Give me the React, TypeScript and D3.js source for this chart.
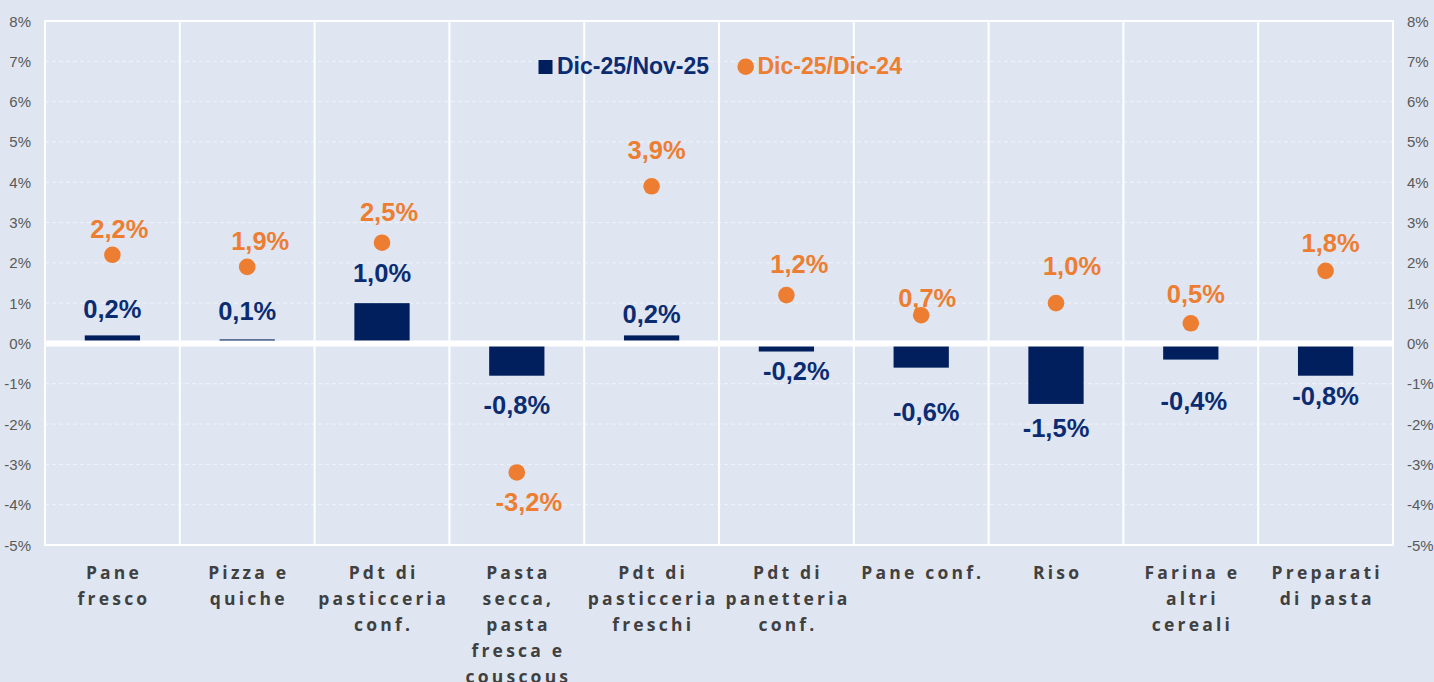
import React from "react";
import * as d3 from "d3";

const categories: string[][] = [
  ["Pane", "fresco"],
  ["Pizza e", "quiche"],
  ["Pdt di", "pasticceria", "conf."],
  ["Pasta", "secca,", "pasta", "fresca e", "couscous"],
  ["Pdt di", "pasticceria", "freschi"],
  ["Pdt di", "panetteria", "conf."],
  ["Pane conf."],
  ["Riso"],
  ["Farina e", "altri", "cereali"],
  ["Preparati", "di pasta"],
];
const monthly: number[] = [0.2, 0.1, 1.0, -0.8, 0.2, -0.2, -0.6, -1.5, -0.4, -0.8];
const yearly: number[] = [2.2, 1.9, 2.5, -3.2, 3.9, 1.2, 0.7, 1.0, 0.5, 1.8];
const yTicks: number[] = [-5, -4, -3, -2, -1, 0, 1, 2, 3, 4, 5, 6, 7, 8];
const seriesNames: string[] = ["Dic-25/Nov-25", "Dic-25/Dic-24"];

// manual label placements of the original (px)
const blueDx = [0, 0, 0, 0, 0, 10, 5, 0, 3, 0];
const blueDy = [-17, -19.5, -21.5, 38.3, -12.7, 28.4, 53, 32.7, 50.4, 29.3];
const orangeDx = [7, 13, 7, 12, 5, 13, 6, 16, 5, 5];
const orangeDy = [-17, -17, -22, 39, -27, -22, -8, -28, -20, -19];

const W = 1434;
const H = 682;
const BG = "#dfe6f2";
const NAVY = "#001f5c";
const NAVY_TXT = "#0c2c72";
const ORANGE = "#ed7d31";
const AXIS_TXT = "#595959";
const CAT_TXT = "#404040";

const fmt = (v: number) => v.toFixed(1).replace(".", ",") + "%";

export default function App() {
  const idx = categories.map((_, i) => String(i));
  const x = d3.scaleBand<string>().domain(idx).range([45, 1393]).paddingInner(0).paddingOuter(0);
  const y = d3.scaleLinear().domain([-5, 8]).range([545, 21]);
  const bw = x.bandwidth();
  const barW = bw * 0.41;
  const labelFont = "'Liberation Sans', Arial, sans-serif";
  const catFont = "'Open Sans', 'Noto Sans', sans-serif";
  const ls = 3.2;

  return (
    <svg
      width={W}
      height={H}
      style={{ position: "absolute", left: 0, top: 0, display: "block" }}
    >
      <rect x={0} y={0} width={W} height={H} fill={BG} />
      {/* dashed gridlines */}
      {yTicks.map((t) => (
        <line
          key={"g" + t}
          x1={45}
          x2={1393}
          y1={y(t)}
          y2={y(t)}
          stroke="#ffffff"
          strokeOpacity={0.55}
          strokeWidth={1}
          strokeDasharray="4 3"
        />
      ))}
      {/* vertical separators */}
      {idx.map((k) => (
        <line key={"v" + k} x1={x(k)!} x2={x(k)!} y1={y(8)} y2={y(-5)} stroke="#fff" strokeWidth={2} />
      ))}
      <line x1={1393} x2={1393} y1={y(8)} y2={y(-5)} stroke="#fff" strokeWidth={2} />
      <line x1={44} x2={1394} y1={y(8)} y2={y(8)} stroke="#fff" strokeWidth={2} />
      <line x1={44} x2={1394} y1={y(-5)} y2={y(-5)} stroke="#fff" strokeWidth={2} />
      {/* bars */}
      {monthly.map((v, i) => {
        const cx = x(String(i))! + bw / 2;
        return (
          <rect
            key={"b" + i}
            x={cx - barW / 2}
            y={Math.min(y(v), y(0))}
            width={barW}
            height={Math.abs(y(v) - y(0))}
            fill={NAVY}
          />
        );
      })}
      {/* zero line */}
      <line x1={44} x2={1394} y1={y(0)} y2={y(0)} stroke="#fff" strokeWidth={6} />
      {/* dots */}
      {yearly.map((v, i) => (
        <circle key={"d" + i} cx={x(String(i))! + bw / 2} cy={y(v)} r={8.3} fill={ORANGE} />
      ))}
      {/* bar labels */}
      {monthly.map((v, i) => (
        <text
          key={"bl" + i}
          x={x(String(i))! + bw / 2 + blueDx[i]}
          y={y(v) + blueDy[i]}
          textAnchor="middle"
          fontFamily={labelFont}
          fontWeight="bold"
          fontSize={25.5}
          fill={NAVY_TXT}
        >
          {fmt(v)}
        </text>
      ))}
      {/* dot labels */}
      {yearly.map((v, i) => (
        <text
          key={"ol" + i}
          x={x(String(i))! + bw / 2 + orangeDx[i]}
          y={y(v) + orangeDy[i]}
          textAnchor="middle"
          fontFamily={labelFont}
          fontWeight="bold"
          fontSize={25.5}
          fill={ORANGE}
        >
          {fmt(v)}
        </text>
      ))}
      {/* axes labels */}
      {yTicks.map((t) => (
        <g key={"t" + t}>
          <text x={31} y={y(t) + 5.5} textAnchor="end" fontFamily={labelFont} fontSize={15} fill={AXIS_TXT}>
            {t + "%"}
          </text>
          <text x={1407} y={y(t) + 5.5} textAnchor="start" fontFamily={labelFont} fontSize={15} fill={AXIS_TXT}>
            {t + "%"}
          </text>
        </g>
      ))}
      {/* category labels */}
      {categories.map((lines, i) => (
        <text
          key={"c" + i}
          x={x(String(i))! + bw / 2 + ls / 2}
          textAnchor="middle"
          fontFamily={catFont}
          fontWeight="bold"
          fontSize={17.5}
          letterSpacing={ls}
          fill={CAT_TXT}
        >
          {lines.map((ln, j) => (
            <tspan key={j} x={x(String(i))! + bw / 2 + ls / 2} y={579 + j * 26}>
              {ln}
            </tspan>
          ))}
        </text>
      ))}
      {/* legend */}
      <rect x={538.5} y={60} width={14} height={14} fill={NAVY} />
      <text x={557} y={74.3} fontFamily={labelFont} fontWeight="bold" fontSize={23} fill={NAVY_TXT}>
        {seriesNames[0]}
      </text>
      <circle cx={745.7} cy={66.7} r={8.3} fill={ORANGE} />
      <text x={757.5} y={74.3} fontFamily={labelFont} fontWeight="bold" fontSize={23} fill={ORANGE}>
        {seriesNames[1]}
      </text>
    </svg>
  );
}
